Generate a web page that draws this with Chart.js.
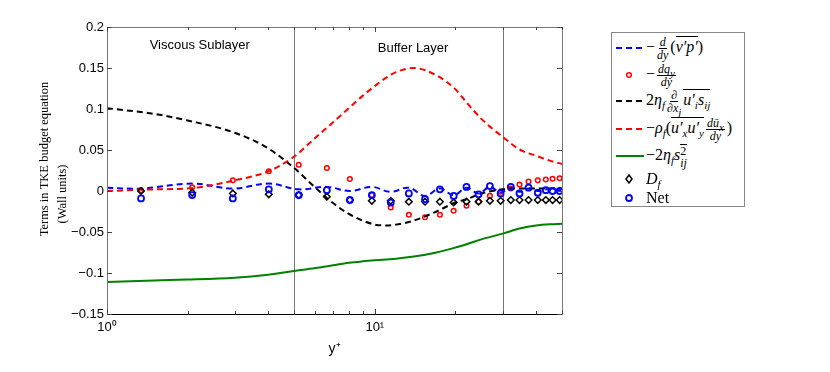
<!DOCTYPE html>
<html>
<head>
<meta charset="utf-8">
<script src="https://cdn.jsdelivr.net/npm/chart.js@4.4.1/dist/chart.umd.min.js"></script>
<style>
  html, body { margin: 0; padding: 0; background: #fff; }
  #wrap { position: relative; width: 830px; height: 372px; }
  #legend {
    position: absolute; left: 611px; top: 32px; width: 132px; height: 173px;
    border: 1px solid #888; background: #fff; color: #000;
    font-family: 'Liberation Serif', 'Times New Roman', serif; font-size: 16px;
  }
  .row { position: absolute; left: 0; height: 26px; display: flex; align-items: center; white-space: nowrap; }
  .row svg { flex: none; margin-left: 3px; margin-right: 1px; }
  .frac { display: inline-flex; flex-direction: column; align-items: center; vertical-align: middle;
          font-size: 12px; line-height: 1.0; margin: 0 2px; }
  .frac > span:first-child { border-bottom: 0.8px solid #000; padding: 0 1px; }
  .ol { display: inline-block; border-top: 1px solid #000; line-height: 1.1; padding-top: 1px; }
  .ss { display: inline-flex; flex-direction: column; font-size: 12px; line-height: 0.9; vertical-align: middle; }
  sub { font-size: 11px; vertical-align: -4px; line-height: 0; }
</style>
</head>
<body>
<div id="wrap">
  <canvas id="chart" width="830" height="372"></canvas>
  <div id="legend">
    <div class="row" style="top:2px">
      <svg width="30" height="10"><line x1="1" y1="5" x2="29" y2="5" stroke="#0000ff" stroke-width="2" stroke-dasharray="6 4"/></svg>
      <span>−<span class="frac"><span><i>d</i></span><span><i>dy</i></span></span>(<span class="ol"><i>v′p′</i></span>)</span>
    </div>
    <div class="row" style="top:29px">
      <svg width="30" height="10"><circle cx="14" cy="5" r="2.3" fill="none" stroke="#ff0000" stroke-width="1.5"/></svg>
      <span>−<span class="frac"><span><i>dq<sub>y</sub></i></span><span><i>dy</i></span></span></span>
    </div>
    <div class="row" style="top:55px">
      <svg width="30" height="10"><line x1="1" y1="5" x2="29" y2="5" stroke="#000" stroke-width="2" stroke-dasharray="6 4"/></svg>
      <span>2<i>η<sub>f</sub></i><span class="frac"><span>∂</span><span>∂<i>x<sub>j</sub></i></span></span><span class="ol"><i>u′<sub>i</sub>s<sub>ij</sub></i></span></span>
    </div>
    <div class="row" style="top:83px">
      <svg width="30" height="10"><line x1="1" y1="5" x2="29" y2="5" stroke="#ff0000" stroke-width="2" stroke-dasharray="6 4"/></svg>
      <span>−<i>ρ<sub>f</sub></i>(<span class="ol"><i>u′<sub>x</sub>u′<sub>y</sub></i></span><span class="frac"><span><i>dū<sub>x</sub></i></span><span><i>dy</i></span></span>)</span>
    </div>
    <div class="row" style="top:110px">
      <svg width="30" height="10"><line x1="1" y1="5" x2="29" y2="5" stroke="#008000" stroke-width="2"/></svg>
      <span>−2<i>η<sub>f</sub></i><i>s</i><span class="ss"><span class="ol" style="padding-top:0">2</span><i>ij</i></span></span>
    </div>
    <div class="row" style="top:133px">
      <svg width="30" height="10"><polygon points="14,1 17,5 14,9 11,5" fill="none" stroke="#000" stroke-width="1.5"/></svg>
      <span><i>D<sub>f</sub></i></span>
    </div>
    <div class="row" style="top:152px">
      <svg width="30" height="10"><circle cx="14" cy="5" r="3" fill="none" stroke="#0000ff" stroke-width="1.8"/></svg>
      <span>Net</span>
    </div>
  </div>
</div>
<script>
// y+ of the sampled points (markers)
const yPlusPts = [1.34, 2.08, 2.95, 4.02, 5.2, 6.62, 8.07, 9.75, 11.47, 13.4, 15.4, 17.5,
                  19.7, 22.0, 24.4, 26.9, 29.5, 32.2, 34.7, 37.5, 40.6, 43.5, 46.1, 49.0];
const heatFluxTerm = [0.001, 0.0045, 0.013, 0.024, 0.032, 0.028, 0.0146, -0.005, -0.020, -0.029, -0.032, -0.029,
                      -0.024, -0.018, -0.013, -0.006, -0.001, 0.003, 0.008, 0.0115, 0.013, 0.014, 0.015, 0.0155];
const fluidDiffusion = [0.0, -0.002, -0.003, -0.004, -0.005, -0.007, -0.011, -0.012, -0.012, -0.013, -0.013, -0.013,
                        -0.014, -0.013, -0.013, -0.012, -0.012, -0.011, -0.011, -0.011, -0.011, -0.011, -0.011, -0.011];
const netTerm = [-0.009, -0.005, -0.009, 0.002, -0.005, 0.001, -0.011, -0.005, -0.014, -0.003, -0.010, 0.002,
                 -0.006, 0.005, -0.004, 0.006, -0.003, 0.005, -0.003, 0.004, -0.002, 0.001, 0.0, 0.0];

// y+ of the smooth curves
const yPlusLine = [1, 1.5, 2, 3, 4, 5, 6, 7, 8, 9, 10, 11, 12, 14, 17, 20, 22, 25, 30, 35, 40, 45, 50];
const viscousTerm = [0.101, 0.094, 0.086, 0.071, 0.052, 0.028, 0.004, -0.015, -0.028, -0.036, -0.041, -0.042,
                     -0.041, -0.036, -0.025, -0.014, -0.010, -0.003, 0.002, 0.003, 0.003, 0.003, 0.003];
const productionTerm = [0.0, 0.002, 0.003, 0.013, 0.024, 0.042, 0.065, 0.084, 0.101, 0.116, 0.128, 0.138,
                        0.145, 0.150, 0.141, 0.124, 0.108, 0.088, 0.066, 0.050, 0.043, 0.037, 0.033];
const dissipationTerm = [-0.111, -0.109, -0.108, -0.1057, -0.102, -0.0976, -0.094, -0.0905, -0.0876, -0.0858, -0.0845, -0.0835,
                         -0.0826, -0.080, -0.075, -0.069, -0.065, -0.059, -0.052, -0.0455, -0.042, -0.0405, -0.040];

// pressure transport curve
const yPlusPress = [1, 1.34, 2.08, 2.95, 4.02, 5.2, 6.62, 8.07, 9.75, 11.47, 13.4, 15.4, 17.5,
                    19.7, 22.0, 24.4, 26.9, 29.5, 32.2, 34.7, 37.5, 40.6, 43.5, 46.1, 49.0, 50];
const pressureTerm = [0.004, 0.003, 0.009, 0.003, 0.009, 0.002, 0.005, 0.0, 0.005, -0.001, 0.004, -0.006, 0.003,
                      -0.005, 0.004, -0.003, 0.005, -0.002, 0.005, -0.001, 0.003, 0.0, 0.002, 0.001, 0.001, 0.001];

// region boundaries in y+ and their names
const regionBounds = [5, 30];
const regionNames = ['Viscous Sublayer', 'Buffer Layer'];
const regionNameX = [2.22, 13.9];
const regionNameY = [0.178, 0.174];

const yMin = -0.15, yMax = 0.2, yStep = 0.05;
const xMin = 1, xMax = 50;
const xMajor = [1, 10];
const xMajorLabels = ['10\u2070', '10\u00b9'];
const yTitle = ['Terms in TKE budget equation', '(Wall units)'];

function pts(xs, ys) {
    return xs.map((x, i) => ({ x: x, y: ys[i] }));
}

function fmtY(v) {
    const r = Math.round(v * 100) / 100;
    if (r === 0) return '0';
    return (r < 0 ? '\u2212' : '') + String(Math.abs(r));
}

// frame, inward ticks, region lines and labels (MATLAB look)
const decorPlugin = {
    id: 'decor',
    beforeDatasetsDraw(chart) {
        const { ctx, chartArea: a, scales: { x } } = chart;
        ctx.save();
        ctx.strokeStyle = '#777';
        ctx.lineWidth = 1;
        regionBounds.forEach(v => {
            const px = Math.round(x.getPixelForValue(v)) + 0.5;
            ctx.beginPath();
            ctx.moveTo(px, a.top);
            ctx.lineTo(px, a.bottom);
            ctx.stroke();
        });
        ctx.restore();
    },
    afterDatasetsDraw(chart) {
        const { ctx, chartArea: a, scales: { x, y } } = chart;
        ctx.save();
        // box
        ctx.strokeStyle = '#777';
        ctx.lineWidth = 1;
        ctx.strokeRect(Math.round(a.left) + 0.5, Math.round(a.top) + 0.5,
                       Math.round(a.right - a.left), Math.round(a.bottom - a.top));
        ctx.strokeStyle = '#000';
        ctx.beginPath();
        ctx.moveTo(a.left, Math.round(a.bottom) + 0.5);
        ctx.lineTo(a.right, Math.round(a.bottom) + 0.5);
        ctx.stroke();

        // y ticks, both sides
        ctx.strokeStyle = '#444';
        for (let v = yMin; v <= yMax + 1e-9; v += yStep) {
            const py = Math.round(y.getPixelForValue(v)) + 0.5;
            ctx.beginPath();
            ctx.moveTo(a.left, py); ctx.lineTo(a.left + 5, py);
            ctx.moveTo(a.right, py); ctx.lineTo(a.right - 5, py);
            ctx.stroke();
        }
        // x ticks (major + minor), top and bottom
        for (let dec = 1; dec <= 10; dec *= 10) {
            for (let m = 1; m <= 9; m++) {
                const v = m * dec;
                if (v < xMin || v > xMax) continue;
                const len = m === 1 ? 5 : 3;
                const px = Math.round(x.getPixelForValue(v)) + 0.5;
                ctx.beginPath();
                ctx.moveTo(px, a.bottom); ctx.lineTo(px, a.bottom - len);
                ctx.moveTo(px, a.top); ctx.lineTo(px, a.top + len);
                ctx.stroke();
            }
        }

        // region names
        ctx.fillStyle = '#000';
        ctx.font = '13px "Liberation Sans", Arial, sans-serif';
        ctx.textAlign = 'center';
        ctx.textBaseline = 'middle';
        regionNames.forEach((name, i) => {
            ctx.fillText(name, x.getPixelForValue(regionNameX[i]), y.getPixelForValue(regionNameY[i]));
        });

        // y axis title (two lines)
        ctx.font = '12.5px "Liberation Serif", "Times New Roman", serif';
        ctx.translate(45, 159);
        ctx.rotate(-Math.PI / 2);
        ctx.fillText(yTitle[0], 0, 0);
        ctx.rotate(Math.PI / 2);
        ctx.translate(18, 35);
        ctx.rotate(-Math.PI / 2);
        ctx.fillText(yTitle[1], 0, 0);
        ctx.restore();
    }
};

const dashed = [6, 4];

new Chart(document.getElementById('chart'), {
    type: 'line',
    data: {
        datasets: [
            { data: pts(yPlusPress, pressureTerm), borderColor: '#0000ff', borderWidth: 2, borderDash: dashed,
              pointRadius: 0, tension: 0.4, order: 7 },
            { data: pts(yPlusPts, heatFluxTerm), showLine: false, pointStyle: 'circle', pointRadius: 2.3,
              pointBorderColor: '#ff0000', pointBackgroundColor: 'rgba(0,0,0,0)', pointBorderWidth: 1.5, order: 6 },
            { data: pts(yPlusLine, viscousTerm), borderColor: '#000', borderWidth: 2, borderDash: dashed,
              pointRadius: 0, cubicInterpolationMode: 'monotone', order: 5 },
            { data: pts(yPlusLine, productionTerm), borderColor: '#ff0000', borderWidth: 2, borderDash: dashed,
              pointRadius: 0, cubicInterpolationMode: 'monotone', order: 4 },
            { data: pts(yPlusLine, dissipationTerm), borderColor: '#008000', borderWidth: 2,
              pointRadius: 0, cubicInterpolationMode: 'monotone', order: 3 },
            { data: pts(yPlusPts, fluidDiffusion), showLine: false, pointStyle: 'rectRot', pointRadius: 3.3,
              pointBorderColor: '#000', pointBackgroundColor: 'rgba(0,0,0,0)', pointBorderWidth: 1.5, order: 2 },
            { data: pts(yPlusPts, netTerm), showLine: false, pointStyle: 'circle', pointRadius: 3,
              pointBorderColor: '#0000ff', pointBackgroundColor: 'rgba(0,0,0,0)', pointBorderWidth: 1.8, order: 1 }
        ]
    },
    options: {
        responsive: false,
        animation: false,
        layout: { padding: { left: 0, top: 27, right: 268, bottom: 0 } },
        plugins: { legend: { display: false }, tooltip: { enabled: false } },
        scales: {
            x: {
                type: 'logarithmic', min: xMin, max: xMax,
                grid: { display: false, drawTicks: false },
                border: { display: false },
                afterFit: (s) => { s.height = 58; },
                afterBuildTicks: (s) => { s.ticks = xMajor.map(v => ({ value: v })); },
                ticks: {
                    autoSkip: false, maxRotation: 0, padding: 6, color: '#000',
                    font: { family: '"Liberation Sans", Arial, sans-serif', size: 13 },
                    callback: (v) => xMajorLabels[xMajor.indexOf(v)]
                },
                title: {
                    display: true, text: 'y\u207a', color: '#000',
                    font: { family: '"Liberation Sans", Arial, sans-serif', size: 14 },
                    padding: { top: 0, bottom: 14 }
                }
            },
            y: {
                min: yMin, max: yMax,
                grid: { display: false, drawTicks: false },
                border: { display: false },
                afterFit: (s) => { s.width = 107; },
                ticks: {
                    stepSize: yStep, padding: 3, color: '#000',
                    font: { family: '"Liberation Sans", Arial, sans-serif', size: 13 },
                    callback: (v) => fmtY(v)
                }
            }
        }
    },
    plugins: [decorPlugin]
});
</script>
</body>
</html>
